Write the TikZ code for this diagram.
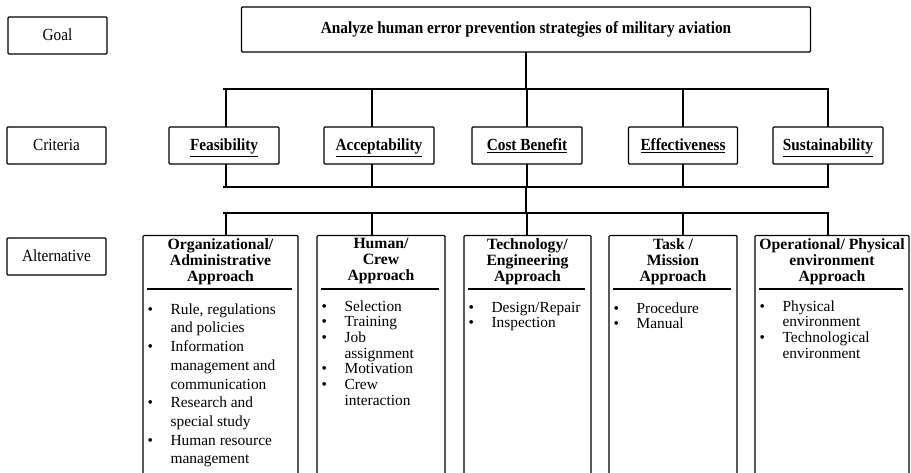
\documentclass[tikz,border=0pt]{standalone}
\usepackage{fontspec}
\setmainfont{Liberation Serif}
\newfontfamily\narrowserif[FakeStretch=0.9]{Liberation Serif}
\begin{document}
\begin{tikzpicture}[x=1pt,y=-1pt,
    box/.style={draw,line width=1.2pt,rounded corners=1pt,inner sep=0pt},
    lbl/.style={box,minimum width=99pt,minimum height=37pt,text height=12pt,text depth=1pt,
      font=\narrowserif\fontsize{17}{19}\selectfont},
    crit/.style={box,minimum width=110pt,minimum height=37pt,text height=12pt,text depth=1pt,
      font=\narrowserif\bfseries\fontsize{17}{19}\selectfont},
    alt/.style={box,anchor=north,minimum height=260pt},
    head/.style={anchor=north,align=center,inner sep=0pt,font=\bfseries\fontsize{15.7}{16.2}\selectfont},
    items/.style={anchor=north west,inner sep=0pt,font=\fontsize{15.4}{15.7}\selectfont},
    bar/.style={line width=1.6pt},
    link/.style={line width=1.9pt,line cap=rect}]
  \clip (0,0) rectangle (911,473);
  \draw
    (57.5,35.5) node[lbl] (goal){Goal}
    (56.5,145.5) node[lbl] (crit){Criteria}
    (56.5,256.5) node[lbl] (alter){Alternative}
    (526,29.5) node[box,minimum width=569pt,minimum height=45pt,
      font=\narrowserif\bfseries\fontsize{17}{19}\selectfont] (aim){Analyze human error prevention strategies of military aviation}
    (224,145.5) node[crit] (feas){\underline{Feasibility}}
    (379,145.5) node[crit] (acc){\underline{Acceptability}}
    (527,145.5) node[crit] (cost){\underline{Cost Benefit}}
    (683,145.5) node[crit,minimum width=109pt] (eff){\underline{Effectiveness}}
    (828,145.5) node[crit] (sust){\underline{Sustainability}}
    (220.5,235) node[alt,minimum width=155pt] (org){}
    (381,235) node[alt,minimum width=128pt] (hum){}
    (527.5,235) node[alt,minimum width=127pt] (tech){}
    (673,235) node[alt,minimum width=128pt] (task){}
    (832,235) node[alt,minimum width=154pt] (oper){}
    (526,89) coordinate (top)
    (526,187) coordinate (mid)
    (526,213) coordinate (low);
  \node[head] (orghead) at ([yshift=-3pt]org.north) {Organizational/\\Administrative\\Approach};
  \node[head] (humhead) at ([yshift=-3pt]hum.north) {Human/\\Crew\\Approach};
  \node[head] (techhead) at ([yshift=-3pt]tech.north) {Technology/\\Engineering\\Approach};
  \node[head] (taskhead) at ([yshift=-3pt]task.north) {Task /\\Mission\\Approach};
  \node[head] (operhead) at ([yshift=-3pt]oper.north) {Operational/ Physical\\environment\\Approach};
  \foreach \a in {org,hum,tech,task,oper}
    \draw[bar] ([xshift=5pt,yshift=-54pt]\a.north west) -- ([xshift=-7pt,yshift=-54pt]\a.north east);
  \node[items,font=\fontsize{15.4}{18.7}\selectfont] (orglist) at ([xshift=5pt,yshift=-66pt]org.north west)
    {\begin{tabular}{@{}p{23pt}@{}l@{}}
      \textbullet & Rule, regulations\\
                  & and policies\\
      \textbullet & Information\\
                  & management and\\
                  & communication\\
      \textbullet & Research and\\
                  & special study\\
      \textbullet & Human resource\\
                  & management
    \end{tabular}};
  \node[items] (humlist) at ([xshift=5pt,yshift=-65pt]hum.north west)
    {\begin{tabular}{@{}p{23pt}@{}l@{}}
      \textbullet & Selection\\
      \textbullet & Training\\
      \textbullet & Job\\
                  & assignment\\
      \textbullet & Motivation\\
      \textbullet & Crew\\
                  & interaction
    \end{tabular}};
  \node[items] (techlist) at ([xshift=5pt,yshift=-66pt]tech.north west)
    {\begin{tabular}{@{}p{23pt}@{}l@{}}
      \textbullet & Design/Repair\\
      \textbullet & Inspection
    \end{tabular}};
  \node[items] (tasklist) at ([xshift=5pt,yshift=-67pt]task.north west)
    {\begin{tabular}{@{}p{23pt}@{}l@{}}
      \textbullet & Procedure\\
      \textbullet & Manual
    \end{tabular}};
  \node[items] (operlist) at ([xshift=5pt,yshift=-65pt]oper.north west)
    {\begin{tabular}{@{}p{23pt}@{}l@{}}
      \textbullet & Physical\\
                  & environment\\
      \textbullet & Technological\\
                  & environment
    \end{tabular}};
  \begin{scope}[link]
    \draw (aim.south) -- (top);
    \draw (feas.north |- top) -- (sust.north |- top);
    \draw (feas.south |- mid) -- (sust.south |- mid);
    \draw (mid) -- (low);
    \draw (feas.south |- low) -- (sust.south |- low);
    \foreach \c/\a/\d in {feas/org/2,acc/hum/-7,cost/tech/0,eff/task/0,sust/oper/0}{
      \draw ([xshift=\d pt]\c.north) -- ([xshift=\d pt]\c.north |- top);
      \draw ([xshift=\d pt]\c.south) -- ([xshift=\d pt]\c.south |- mid);
      \draw ([xshift=\d pt]\c.south |- low) -- ([xshift=\d pt]\c.south |- \a.north);
    }
  \end{scope}
\end{tikzpicture}
\end{document}
